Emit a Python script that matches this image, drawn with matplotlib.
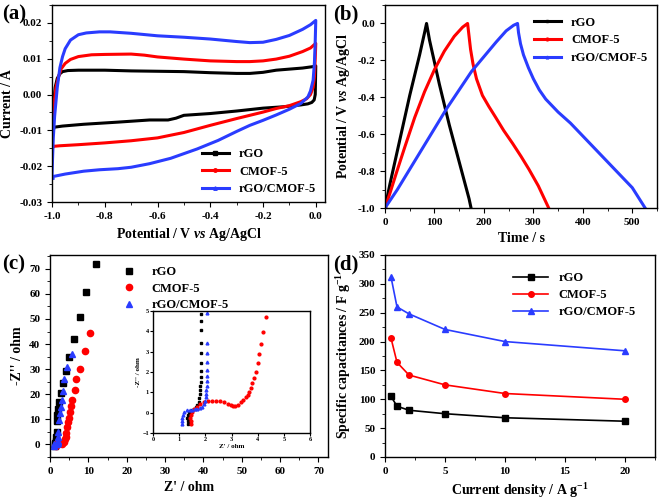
import numpy as np
import matplotlib
matplotlib.use("Agg")
import matplotlib.pyplot as plt
from matplotlib.ticker import MultipleLocator, AutoMinorLocator

plt.rcParams['font.family'] = 'Liberation Serif'
plt.rcParams['font.weight'] = 'bold'
plt.rcParams['axes.labelweight'] = 'bold'
plt.rcParams['axes.linewidth'] = 1.0
plt.rcParams['mathtext.fontset'] = 'custom'
plt.rcParams['mathtext.rm'] = 'Liberation Serif:bold'
plt.rcParams['mathtext.bf'] = 'Liberation Serif:bold'
plt.rcParams['mathtext.it'] = 'Liberation Serif:italic:bold'

labels = ['rGO', 'CMOF-5', 'rGO/CMOF-5']
colors = ['black', 'red', '#2a3cff']
markers = ['s', 'o', '^']

# (a) CV loops: potential (V), current (A)
cv_rgo_v = [-1.0, -0.997, -0.993, -0.988, -0.98, -0.97, -0.96, -0.94, -0.9, -0.8, -0.7, -0.6,
            -0.5, -0.4, -0.3, -0.25, -0.2, -0.15, -0.1, -0.05, -0.01, 0.0, -0.002, -0.006,
            -0.015, -0.03, -0.057, -0.12, -0.2, -0.3, -0.4, -0.5, -0.53, -0.56, -0.63,
            -0.75, -0.88, -0.96, -0.99, -1.0]
cv_rgo_i = [-0.0092, -0.006, -0.002, 0.002, 0.0045, 0.0058, 0.0064, 0.0067, 0.0068, 0.0068,
            0.0066, 0.0065, 0.0064, 0.0061, 0.0059, 0.0059, 0.0062, 0.0068, 0.0071, 0.0074,
            0.0078, 0.008, 0.0, -0.0015, -0.0022, -0.0026, -0.0029, -0.0034, -0.0038,
            -0.0046, -0.0053, -0.0058, -0.0066, -0.0071, -0.0071, -0.0077, -0.0083,
            -0.0088, -0.0091, -0.0092]
cv_cmof_v = [-1.0, -0.998, -0.995, -0.99, -0.985, -0.975, -0.965, -0.95, -0.93, -0.9, -0.85,
             -0.8, -0.7, -0.65, -0.6, -0.5, -0.4, -0.3, -0.25, -0.2, -0.15, -0.1, -0.05,
             -0.02, 0.0, -0.002, -0.005, -0.01, -0.02, -0.035, -0.057, -0.1, -0.15, -0.2,
             -0.25, -0.3, -0.4, -0.5, -0.6, -0.7, -0.8, -0.9, -0.97, -1.0]
cv_cmof_i = [-0.0145, -0.01, -0.005, -0.001, 0.002, 0.005, 0.0072, 0.0087, 0.0098, 0.0106,
             0.0111, 0.0112, 0.0113, 0.011, 0.0105, 0.0099, 0.0094, 0.0092, 0.0092, 0.0094,
             0.0099, 0.0107, 0.012, 0.013, 0.0143, 0.01, 0.005, 0.002, 0.0, -0.0012, -0.002,
             -0.0031, -0.0039, -0.0049, -0.0058, -0.0067, -0.0086, -0.0106, -0.0121,
             -0.0129, -0.0135, -0.014, -0.0143, -0.0145]
cv_comp_v = [-1.0, -0.998, -0.995, -0.99, -0.985, -0.98, -0.97, -0.96, -0.95, -0.93, -0.9,
             -0.87, -0.82, -0.78, -0.7, -0.6, -0.5, -0.4, -0.3, -0.25, -0.2, -0.15, -0.1,
             -0.05, -0.02, 0.0, -0.002, -0.005, -0.01, -0.02, -0.03, -0.057, -0.1, -0.15,
             -0.2, -0.25, -0.3, -0.37, -0.45, -0.5, -0.55, -0.63, -0.7, -0.75, -0.82,
             -0.88, -0.95, -0.99, -1.0]
cv_comp_i = [-0.023, -0.018, -0.012, -0.006, -0.002, 0.002, 0.0075, 0.0106, 0.0128, 0.0152,
             0.0167, 0.0172, 0.0175, 0.0175, 0.0171, 0.0164, 0.016, 0.0155, 0.0148, 0.0145,
             0.0146, 0.0154, 0.0165, 0.0182, 0.0195, 0.0207, 0.015, 0.009, 0.004, 0.001,
             -0.0007, -0.0025, -0.0041, -0.0057, -0.0072, -0.0086, -0.0103, -0.0128,
             -0.0152, -0.0165, -0.0178, -0.0193, -0.0203, -0.0207, -0.021, -0.0214,
             -0.0222, -0.0228, -0.023]

# (b) GCD curves: time (s), potential (V)
gcd_rgo_t = [0, 10, 20, 30, 40, 50, 60, 70, 80, 84, 90, 100, 110, 120, 130, 140, 150, 160, 170, 174]
gcd_rgo_v = [-1.0, -0.87, -0.75, -0.63, -0.51, -0.39, -0.28, -0.17, -0.05, 0.0,
             -0.09, -0.21, -0.33, -0.44, -0.55, -0.65, -0.75, -0.85, -0.95, -1.0]
gcd_cmof_t = [0, 10, 23, 40, 60, 80, 100, 120, 140, 157, 167, 170, 173, 178, 185, 197, 210,
              224, 240, 258, 275, 291, 310, 331]
gcd_cmof_v = [-1.0, -0.92, -0.81, -0.67, -0.51, -0.37, -0.25, -0.15, -0.07, -0.02, 0.0,
              -0.07, -0.14, -0.22, -0.3, -0.39, -0.45, -0.51, -0.58, -0.65, -0.72, -0.79,
              -0.88, -1.0]
gcd_comp_t = [0, 25, 50, 75, 100, 125, 150, 175, 200, 225, 245, 260, 268, 270, 274, 280, 290,
              300, 312, 325, 350, 375, 400, 425, 450, 475, 500, 526]
gcd_comp_v = [-1.0, -0.9, -0.79, -0.68, -0.57, -0.46, -0.36, -0.26, -0.18, -0.1, -0.04,
              -0.01, 0.0, -0.05, -0.11, -0.17, -0.24, -0.3, -0.36, -0.41, -0.48, -0.54,
              -0.61, -0.68, -0.75, -0.82, -0.89, -1.0]

# (c) Nyquist: Z' (ohm), -Z'' (ohm)
eis_rgo_x = [1.3, 1.35, 1.4, 1.5, 1.6, 1.7, 1.75, 1.9, 2.2, 2.45, 2.9, 3.3, 4.1, 4.97, 6.3, 7.85, 9.4, 11.95]
eis_rgo_y = [-0.5, 0.1, 0.5, 1.5, 3.0, 5.0, 9.5, 11.7, 14.0, 17.0, 20.4, 24.6, 29.4, 35.0, 41.9, 50.6, 60.6, 71.9]
eis_cmof_x = [1.45, 1.8, 2.5, 3.1, 3.7, 3.9, 4.1, 4.3, 4.5, 4.7, 5.0, 5.2, 5.5, 5.85, 6.4, 6.9, 7.9, 9.2, 10.5]
eis_cmof_y = [-0.5, 0.45, 0.55, 0.3, 1.1, 2.0, 3.0, 4.7, 7.0, 8.8, 10.7, 12.8, 15.3, 17.7, 21.7, 26.0, 30.1, 37.3, 44.3]
eis_comp_x = [1.1, 1.15, 1.5, 1.8, 2.0, 2.05, 2.1, 2.2, 2.45, 2.6, 2.9, 3.1, 3.5, 3.75, 4.4, 5.7]
eis_comp_y = [-0.5, 0.1, 0.15, 0.2, 0.6, 1.5, 3.0, 5.0, 9.7, 12.4, 14.8, 17.7, 21.3, 26.0, 31.0, 36.0]

# (c) inset, low-impedance region
ins_rgo_x = [1.34, 1.32, 1.3, 1.32, 1.36, 1.42, 1.5, 1.58, 1.65, 1.7, 1.74, 1.77, 1.79, 1.8,
             1.81, 1.82, 1.83, 1.83, 1.84, 1.84, 1.85, 1.85, 1.85, 1.85]
ins_rgo_y = [-0.54, -0.4, -0.25, -0.1, 0.02, 0.1, 0.15, 0.2, 0.28, 0.38, 0.52, 0.7, 0.9,
             1.1, 1.3, 1.51, 1.76, 2.06, 2.45, 2.93, 3.44, 4.06, 4.5, 4.85]
ins_cmof_x = [1.47, 1.44, 1.42, 1.44, 1.5, 1.58, 1.68, 1.8, 1.95, 2.1, 2.25, 2.4, 2.55, 2.7,
              2.85, 2.97, 3.07, 3.15, 3.25, 3.35, 3.45, 3.55, 3.62, 3.67, 3.74, 3.8, 3.86,
              3.92, 4.0, 4.06, 4.14, 4.21, 4.33]
ins_cmof_y = [-0.54, -0.4, -0.25, -0.1, 0.05, 0.2, 0.3, 0.42, 0.5, 0.55, 0.57, 0.57, 0.56,
              0.51, 0.43, 0.36, 0.31, 0.32, 0.4, 0.5, 0.62, 0.75, 0.88, 1.03, 1.23, 1.44,
              1.69, 2.02, 2.44, 2.9, 3.38, 3.99, 4.7]
ins_comp_x = [1.09, 1.1, 1.12, 1.15, 1.2, 1.3, 1.4, 1.5, 1.6, 1.7, 1.8, 1.88, 1.94, 1.98,
              2.01, 2.03, 2.04, 2.05, 2.06, 2.06, 2.07, 2.07, 2.07, 2.07, 2.07]
ins_comp_y = [-0.54, -0.4, -0.25, -0.1, 0.05, 0.12, 0.14, 0.15, 0.16, 0.18, 0.22, 0.3, 0.42,
              0.55, 0.75, 0.9, 1.1, 1.3, 1.55, 1.8, 2.1, 2.5, 2.95, 3.45, 4.9]

# (d) specific capacitance vs current density
cur_density = [0.5, 1, 2, 5, 10, 20]
cap_rgo = [105, 88, 81, 75, 68, 62]
cap_cmof = [206, 164, 142, 125, 110, 100]
cap_comp = [312, 260, 248, 221, 200, 184]

W, H = 661, 499
fig = plt.figure(figsize=(W / 100, H / 100), dpi=100)


def box(l, t, r, b):
    return [l / W, 1 - b / H, (r - l) / W, (b - t) / H]


def style(ax, size=8):
    ax.tick_params(which='both', direction='out', top=False, right=False, labelsize=size)
    ax.tick_params(which='major', length=3.5)
    ax.tick_params(which='minor', length=2)
    ax.xaxis.set_minor_locator(AutoMinorLocator(2))
    ax.yaxis.set_minor_locator(AutoMinorLocator(2))
    for lab in ax.get_xticklabels() + ax.get_yticklabels():
        lab.set_fontweight('bold')


# ---- (a)
ax = fig.add_axes(box(52, 5, 325, 202))
for v, i, c, m, l in zip([cv_rgo_v, cv_cmof_v, cv_comp_v], [cv_rgo_i, cv_cmof_i, cv_comp_i],
                         colors, markers, labels):
    ax.plot(v, i, color=c, lw=2.2, marker=m, ms=2.5, markevery=1000, label=l)
ax.set_xlim(-1.0, 0.035)
ax.set_ylim(-0.03, 0.025)
ax.xaxis.set_major_locator(MultipleLocator(0.2))
ax.yaxis.set_major_locator(MultipleLocator(0.01))
ax.xaxis.set_major_formatter(plt.FormatStrFormatter('%.1f'))
ax.yaxis.set_major_formatter(plt.FormatStrFormatter('%.2f'))
style(ax)
ax.set_xlabel('Potential / V $\\mathit{vs}$ Ag/AgCl', fontsize=10)
ax.set_ylabel('Current / A', fontsize=10)
ax.legend(loc='lower right', bbox_to_anchor=(1.0, -0.01), frameon=False, fontsize=9,
          handlelength=2.2, borderaxespad=0.3, labelspacing=0.45)
fig.text(2 / W, 1 - 4 / H, '(a)', fontsize=15, fontweight='bold', va='top')

# ---- (b)
ax = fig.add_axes(box(385, 5, 657, 208))
for t, v, c, m, l in zip([gcd_rgo_t, gcd_cmof_t, gcd_comp_t], [gcd_rgo_v, gcd_cmof_v, gcd_comp_v],
                         colors, markers, labels):
    ax.plot(t, v, color=c, lw=2.2, label=l, marker=m, ms=2, markevery=1000)
ax.set_xlim(0, 550)
ax.set_ylim(-1.0, 0.1)
ax.xaxis.set_major_locator(MultipleLocator(100))
ax.yaxis.set_major_locator(MultipleLocator(0.2))
ax.yaxis.set_major_formatter(plt.FormatStrFormatter('%.1f'))
style(ax)
ax.set_xlabel('Time / s', fontsize=10)
ax.set_ylabel('Potential / V $\\mathit{vs}$ Ag/AgCl', fontsize=10)
ax.legend(loc='upper right', bbox_to_anchor=(1.0, 0.985), frameon=False, fontsize=9,
          handlelength=2.2, borderaxespad=0.3, labelspacing=0.45)
fig.text(333 / W, 1 - 4 / H, '(b)', fontsize=15, fontweight='bold', va='top')

# ---- (c)
ax = fig.add_axes(box(50, 255, 328, 457))
for x, y, c, m, l in zip([eis_rgo_x, eis_cmof_x, eis_comp_x], [eis_rgo_y, eis_cmof_y, eis_comp_y],
                         colors, markers, labels):
    ax.plot(x, y, ls='none', color=c, marker=m, ms=4.5, label=l)
ax.set_xlim(0, 72.5)
ax.set_ylim(-5, 75.5)
ax.xaxis.set_major_locator(MultipleLocator(10))
ax.yaxis.set_major_locator(MultipleLocator(10))
style(ax)
ax.set_xlabel("Z' / ohm", fontsize=10)
ax.set_ylabel("-Z'' / ohm", fontsize=10)
ax.legend(loc='upper left', bbox_to_anchor=(0.2, 1.0), frameon=False, fontsize=9,
          handletextpad=0.8, labelspacing=0.35)
fig.text(2 / W, 1 - 254 / H, '(c)', fontsize=15, fontweight='bold', va='top')

ins = fig.add_axes(box(153, 311, 310, 433))
for x, y, c, m in zip([ins_rgo_x, ins_cmof_x, ins_comp_x], [ins_rgo_y, ins_cmof_y, ins_comp_y],
                      colors, markers):
    ins.plot(x, y, ls='none', color=c, marker=m, ms=2)
ins.set_xlim(0, 6)
ins.set_ylim(-1, 5)
ins.xaxis.set_major_locator(MultipleLocator(1))
ins.yaxis.set_major_locator(MultipleLocator(1))
ins.tick_params(direction='out', length=2, labelsize=4.5, pad=1)
for lab in ins.get_xticklabels() + ins.get_yticklabels():
    lab.set_fontweight('bold')
ins.set_xlabel("Z' / ohm", fontsize=5, labelpad=1)
ins.set_ylabel("-Z'' / ohm", fontsize=5, labelpad=1)

# ---- (d)
ax = fig.add_axes(box(385, 255, 655, 457))
for y, c, m, l in zip([cap_rgo, cap_cmof, cap_comp], colors, markers, labels):
    ax.plot(cur_density, y, color=c, lw=1.2, marker=m, ms=4, label=l)
ax.set_xlim(0, 22.5)
ax.set_ylim(0, 350)
ax.xaxis.set_major_locator(MultipleLocator(5))
ax.yaxis.set_major_locator(MultipleLocator(50))
style(ax)
ax.set_xlabel('Current density / A g$^{-1}$', fontsize=10)
ax.set_ylabel('Specific capacitances / F g$^{-1}$', fontsize=10)
ax.legend(loc='upper right', bbox_to_anchor=(0.97, 0.97), frameon=False, fontsize=9,
          handlelength=2.8, labelspacing=0.4)
fig.text(333 / W, 1 - 254 / H, '(d)', fontsize=15, fontweight='bold', va='top')

fig.savefig('out.png', dpi=100)
